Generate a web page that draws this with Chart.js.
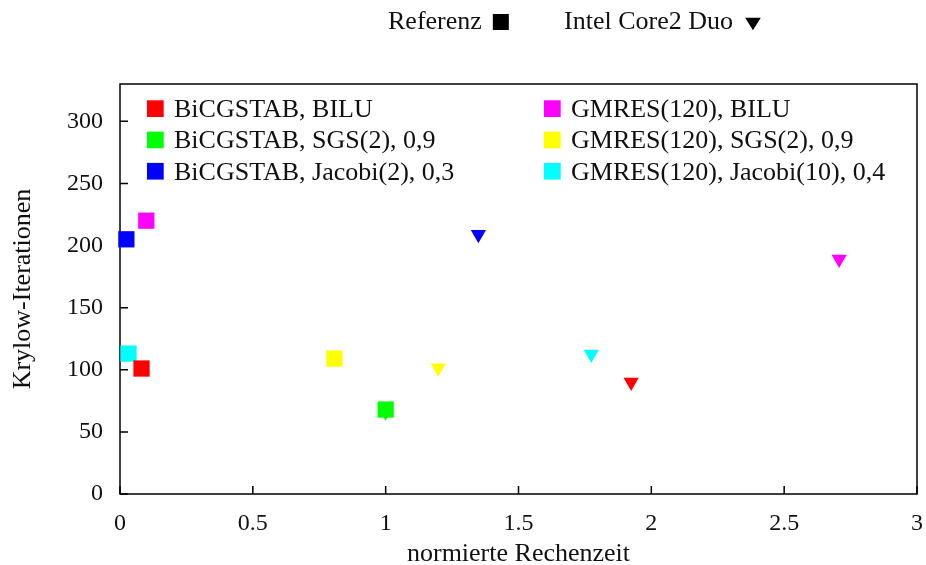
<!DOCTYPE html>
<html lang="de">
<head>
<meta charset="utf-8">
<title>Krylow-Iterationen über normierter Rechenzeit</title>
<script src="https://cdn.jsdelivr.net/npm/chart.js@4/dist/chart.umd.min.js"></script>
<style>
  html, body { margin: 0; padding: 0; background: #fff; }
  #wrap { position: relative; width: 926px; height: 565px; }
</style>
</head>
<body>
<div id="wrap"><canvas id="chart"></canvas></div>
<script>
// Solver / preconditioner combinations
const categories = [
  'BiCGSTAB, BILU',
  'BiCGSTAB, SGS(2), 0,9',
  'BiCGSTAB, Jacobi(2), 0,3',
  'GMRES(120), BILU',
  'GMRES(120), SGS(2), 0,9',
  'GMRES(120), Jacobi(10), 0,4'
];
const seriesColors = ['#ff0000', '#00ff00', '#0000ff', '#ff00ff', '#ffff00', '#00ffff'];

// Reference machine: normalised run time and Krylov iterations
const referenzTime = [0.081, 1.0, 0.024, 0.099, 0.807, 0.032];
const referenzIter = [101, 68, 205, 220, 109, 113];

// Intel Core2 Duo: normalised run time and Krylov iterations
const intelTime = [1.924, 1.0, 1.349, 2.707, 1.198, 1.774];
const intelIter = [90, 66, 209, 189, 101.5, 112.5];

// Axis ticks
const xTicks = [0, 0.5, 1, 1.5, 2, 2.5, 3];
const yTicks = [0, 50, 100, 150, 200, 250, 300];

const machines = ['Referenz', 'Intel Core2 Duo'];

const SERIF = '"Liberation Serif", "Times New Roman", serif';
const TEXT = '#111';

const datasets = [];
categories.forEach((name, i) => {
  datasets.push({
    label: name + ' (' + machines[0] + ')',
    data: [{ x: referenzTime[i], y: referenzIter[i] }],
    pointStyle: 'rect',
    pointRadius: 11.5,
    pointHoverRadius: 11.5,
    borderWidth: 0,
    backgroundColor: seriesColors[i],
    borderColor: seriesColors[i],
    clip: false
  });
});
categories.forEach((name, i) => {
  datasets.push({
    label: name + ' (' + machines[1] + ')',
    data: [{ x: intelTime[i], y: intelIter[i] }],
    pointStyle: 'triangle',
    rotation: 180,
    pointRadius: 8.8,
    pointHoverRadius: 8.8,
    borderWidth: 0,
    backgroundColor: seriesColors[i],
    borderColor: seriesColors[i],
    clip: false
  });
});

// Box around the plot area with short inward tick marks
const framePlugin = {
  id: 'frame',
  beforeDatasetsDraw(chart) {
    const { ctx, chartArea: a, scales: { x, y } } = chart;
    ctx.save();
    ctx.strokeStyle = '#000';
    ctx.lineWidth = 1.5;
    ctx.strokeRect(a.left, a.top, a.right - a.left, a.bottom - a.top);
    ctx.beginPath();
    x.ticks.forEach((t, i) => {
      const px = x.getPixelForTick(i);
      ctx.moveTo(px, a.bottom);
      ctx.lineTo(px, a.bottom - 8);
    });
    y.ticks.forEach((t, i) => {
      const py = y.getPixelForTick(i);
      ctx.moveTo(a.left, py);
      ctx.lineTo(a.left + 8, py);
    });
    ctx.stroke();
    ctx.restore();
  }
};

function drawSquare(ctx, cx, cy, size, color) {
  ctx.fillStyle = color;
  ctx.fillRect(cx - size / 2, cy - size / 2, size, size);
}
function drawTriangleDown(ctx, cx, cy, w, h, color) {
  ctx.fillStyle = color;
  ctx.beginPath();
  ctx.moveTo(cx - w / 2, cy - h / 2);
  ctx.lineTo(cx + w / 2, cy - h / 2);
  ctx.lineTo(cx, cy + h / 2);
  ctx.closePath();
  ctx.fill();
}

// Machine key above the plot and colour key inside it
const keyPlugin = {
  id: 'keys',
  afterDraw(chart) {
    const { ctx, chartArea: a } = chart;
    ctx.save();
    ctx.font = '26px ' + SERIF;
    ctx.textBaseline = 'alphabetic';
    ctx.textAlign = 'left';
    ctx.fillStyle = TEXT;

    // machine key
    ctx.fillText(machines[0], 388, 29);
    const w0 = ctx.measureText(machines[0]).width;
    drawSquare(ctx, 388 + w0 + 19, 22, 16, '#000');
    ctx.fillStyle = TEXT;
    ctx.fillText(machines[1], 564, 29);
    const w1 = ctx.measureText(machines[1]).width;
    drawTriangleDown(ctx, 564 + w1 + 20, 24, 15.6, 12.5, '#000');

    // colour key, two columns of three
    const colX = [a.left + 27, a.left + 424];
    const rowBase = [a.top + 33, a.top + 64.3, a.top + 95.6];
    categories.forEach((name, i) => {
      const col = Math.floor(i / 3), row = i % 3;
      const x0 = colX[col], yb = rowBase[row];
      ctx.fillStyle = seriesColors[i];
      ctx.fillRect(x0, yb - 16.7, 16.7, 16.7);
      ctx.fillStyle = TEXT;
      ctx.fillText(name, x0 + 27, yb);
    });
    ctx.restore();
  }
};

new Chart(document.getElementById('chart'), {
  type: 'scatter',
  data: { datasets },
  options: {
    responsive: true,
    maintainAspectRatio: false,
    animation: false,
    events: [],
    layout: { autoPadding: false, padding: { top: 84, right: 9, bottom: 0, left: 0 } },
    plugins: {
      legend: { display: false },
      tooltip: { enabled: false }
    },
    scales: {
      x: {
        type: 'linear',
        min: 0,
        max: 3,
        afterBuildTicks(scale) { scale.ticks = xTicks.map(v => ({ value: v })); },
        afterFit(scale) {
          scale.height = 71;
          scale.paddingLeft = 0;
          scale.paddingRight = 0;
        },
        grid: { display: false, drawTicks: false },
        border: { display: false },
        ticks: {
          padding: 15,
          color: TEXT,
          font: { family: SERIF, size: 24 },
          maxRotation: 0,
          callback: v => String(v)
        },
        title: {
          display: true,
          text: 'normierte Rechenzeit',
          color: TEXT,
          font: { family: SERIF, size: 26 },
          padding: { top: 0, bottom: -5 }
        }
      },
      y: {
        type: 'linear',
        min: 0,
        max: 330,
        afterBuildTicks(scale) { scale.ticks = yTicks.map(v => ({ value: v })); },
        afterFit(scale) {
          scale.width = 120;
          scale.paddingTop = 0;
          scale.paddingBottom = 0;
        },
        grid: { display: false, drawTicks: false },
        border: { display: false },
        ticks: {
          padding: 17,
          color: TEXT,
          font: { family: SERIF, size: 24 },
          callback: v => String(v)
        },
        title: {
          display: true,
          text: 'Krylow-Iterationen',
          color: TEXT,
          font: { family: SERIF, size: 26 },
          padding: { top: 8, bottom: 0 }
        }
      }
    }
  },
  plugins: [framePlugin, keyPlugin]
});
</script>
</body>
</html>
